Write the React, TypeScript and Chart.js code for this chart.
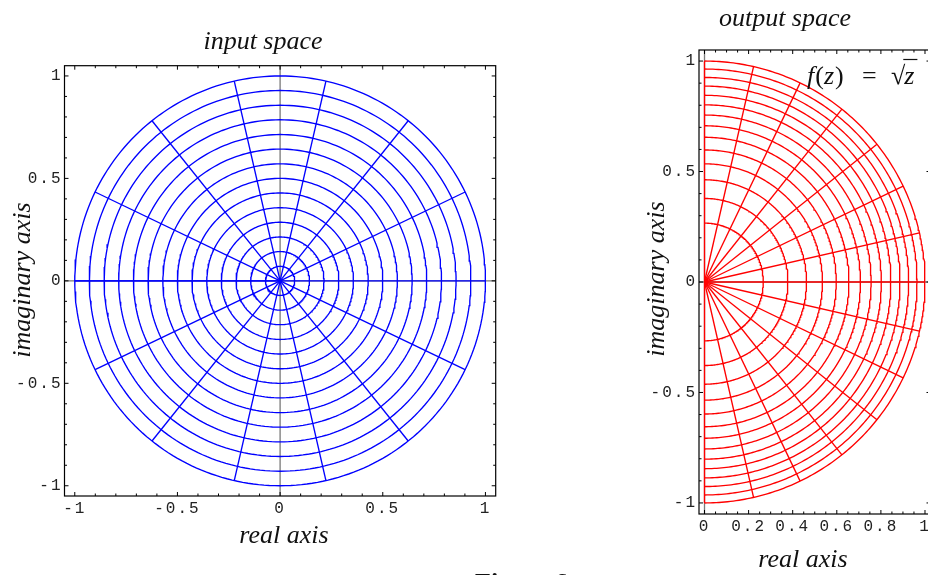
import React, { useEffect, useRef } from 'react';
import { Chart, registerables } from 'chart.js';

Chart.register(...registerables);

// ---- data ----
// input grid: circles of radius k/14 and rays every 360/14 degrees
const INPUT_RADII = [0.071, 0.143, 0.214, 0.286, 0.357, 0.429, 0.5, 0.571, 0.643, 0.714, 0.786, 0.857, 0.929, 1];
const INPUT_ANGLES_DEG = [-180, -154.3, -128.6, -102.9, -77.1, -51.4, -25.7, 0, 25.7, 51.4, 77.1, 102.9, 128.6, 154.3, 180];
const RAY_RADII = [0, 1];

const IN_TICKS = [-1, -0.5, 0, 0.5, 1];
const OUT_X_TICKS = [0, 0.2, 0.4, 0.6, 0.8, 1];
const OUT_Y_TICKS = [-1, -0.5, 0, 0.5, 1];
const IN_MINOR_STEP = 0.1;
const OUT_X_MINOR_STEP = 0.05;
const OUT_Y_MINOR_STEP = 0.1;

const CIRCLE_SAMPLES = 240;

type Pt = { x: number; y: number };
type PolarMap = (rho: number, theta: number) => Pt;

const identity: PolarMap = (rho, theta) => ({ x: rho * Math.cos(theta), y: rho * Math.sin(theta) });
// f(z) = sqrt(z), principal branch, in polar form
const sqrtMap: PolarMap = (rho, theta) => {
  const r = Math.sqrt(rho);
  const a = theta / 2;
  return { x: r * Math.cos(a), y: r * Math.sin(a) };
};

function buildDatasets(map: PolarMap, color: string) {
  const sets: any[] = [];
  const base = {
    showLine: true,
    borderColor: color,
    backgroundColor: color,
    borderWidth: 1.35,
    pointRadius: 0,
    pointHoverRadius: 0,
    fill: false,
    tension: 0,
  };
  for (const r of INPUT_RADII) {
    const pts: Pt[] = [];
    for (let i = 0; i <= CIRCLE_SAMPLES; i++) {
      const t = -Math.PI + (2 * Math.PI * i) / CIRCLE_SAMPLES;
      pts.push(map(r, t));
    }
    sets.push({ ...base, data: pts });
  }
  for (const deg of INPUT_ANGLES_DEG) {
    const phi = (deg * Math.PI) / 180;
    sets.push({ ...base, data: RAY_RADII.map((s) => map(s, phi)) });
  }
  return sets;
}

type TextSpec = { text: string; x: number; y: number; font: string; rotate?: boolean };

const framePlugin = {
  id: 'mframe',
  beforeDraw(chart: any) {
    chart.ctx.letterSpacing = '2px';
  },
  beforeDatasetsDraw(chart: any) {
    const { ctx, chartArea: ca, scales } = chart;
    const x0 = scales.x.getPixelForValue(0);
    const y0 = scales.y.getPixelForValue(0);
    ctx.save();
    ctx.strokeStyle = '#7a7a7a';
    ctx.lineWidth = 1.3;
    ctx.beginPath();
    ctx.moveTo(x0, ca.top);
    ctx.lineTo(x0, ca.bottom);
    ctx.moveTo(ca.left, y0);
    ctx.lineTo(ca.right, y0);
    ctx.stroke();
    ctx.restore();
  },
  afterDatasetsDraw(chart: any, _args: any, opts: any) {
    const { ctx, chartArea: ca, scales } = chart;
    ctx.save();
    ctx.strokeStyle = '#000';
    ctx.lineWidth = 1.2;
    ctx.strokeRect(ca.left, ca.top, ca.right - ca.left, ca.bottom - ca.top);
    ctx.lineWidth = 1;
    const drawTicks = (scale: any, horizontal: boolean, majors: number[], minorStep: number) => {
      const min = scale.min, max = scale.max;
      const start = Math.ceil(min / minorStep - 1e-9);
      const end = Math.floor(max / minorStep + 1e-9);
      ctx.beginPath();
      for (let k = start; k <= end; k++) {
        const v = k * minorStep;
        const isMajor = majors.some((m) => Math.abs(m - v) < 1e-6);
        const len = isMajor ? 4 : 2.5;
        const p = scale.getPixelForValue(v);
        if (horizontal) {
          ctx.moveTo(p, ca.bottom);
          ctx.lineTo(p, ca.bottom - len);
          ctx.moveTo(p, ca.top);
          ctx.lineTo(p, ca.top + len);
        } else {
          ctx.moveTo(ca.left, p);
          ctx.lineTo(ca.left + len, p);
          ctx.moveTo(ca.right, p);
          ctx.lineTo(ca.right - len, p);
        }
      }
      ctx.stroke();
    };
    drawTicks(scales.x, true, opts.xMajors, opts.xMinor);
    drawTicks(scales.y, false, opts.yMajors, opts.yMinor);
    ctx.restore();
  },
  afterDraw(chart: any, _args: any, opts: any) {
    const ctx = chart.ctx;
    ctx.save();
    ctx.letterSpacing = '0px';
    ctx.fillStyle = '#111';
    ctx.textAlign = 'center';
    ctx.textBaseline = 'alphabetic';
    for (const t of (opts.texts || []) as TextSpec[]) {
      ctx.font = t.font;
      if (t.rotate) {
        ctx.save();
        ctx.translate(t.x, t.y);
        ctx.rotate(-Math.PI / 2);
        ctx.fillText(t.text, 0, 0);
        ctx.restore();
      } else {
        ctx.fillText(t.text, t.x, t.y);
      }
    }
    if (opts.formula) {
      const { x, y } = opts.formula;
      const it = 'italic 26px "Liberation Serif"';
      const up = '26px "Liberation Serif"';
      ctx.textAlign = 'left';
      let cx = x;
      const put = (s: string, f: string, gap = 0) => {
        ctx.font = f;
        ctx.fillText(s, cx, y);
        cx += ctx.measureText(s).width + gap;
      };
      put('f', it, 1);
      put('(', up);
      put('z', it, 1);
      put(')', up);
      cx = x + 55;
      put('=', up);
      cx = x + 84;
      put('\u221A', up, -1);
      const zStart = cx;
      put('z', it);
      ctx.strokeStyle = '#111';
      ctx.lineWidth = 1.2;
      ctx.beginPath();
      ctx.moveTo(zStart - 1, y - 24.5);
      ctx.lineTo(cx + 3, y - 24.5);
      ctx.stroke();
    }
    ctx.restore();
    chart.ctx.letterSpacing = '0px';
  },
};

const TICK_FONT = { family: '"Liberation Mono", "Courier New", monospace', size: 16 };
const TITLE_FONT = 'italic 26px "Liberation Serif", "Times New Roman", serif';

function makeScale(min: number, max: number, ticks: number[], fit: (s: any) => void, padding: number) {
  return {
    type: 'linear' as const,
    min,
    max,
    afterBuildTicks: (s: any) => {
      s.ticks = ticks.map((v) => ({ value: v }));
    },
    afterFit: (s: any) => {
      fit(s);
      s.paddingLeft = 0;
      s.paddingRight = 0;
      s.paddingTop = 0;
      s.paddingBottom = 0;
    },
    grid: { display: false, drawTicks: false },
    border: { display: false },
    ticks: {
      autoSkip: false,
      maxRotation: 0,
      minRotation: 0,
      padding,
      color: '#222',
      font: TICK_FONT,
      callback: (v: any) => String(v),
    },
  };
}

function GridChart(props: {
  left: number;
  width: number;
  map: PolarMap;
  color: string;
  xRange: [number, number];
  yRange: [number, number];
  xTicks: number[];
  yTicks: number[];
  xMinor: number;
  yMinor: number;
  yAxisWidth: number;
  xAxisHeight: number;
  padTop: number;
  padRight: number;
  texts: TextSpec[];
  formula?: { x: number; y: number };
}) {
  const ref = useRef<HTMLCanvasElement | null>(null);
  useEffect(() => {
    if (!ref.current) return;
    const chart = new Chart(ref.current, {
      type: 'scatter',
      data: { datasets: buildDatasets(props.map, props.color) },
      options: {
        animation: false,
        responsive: false,
        maintainAspectRatio: false,
        events: [],
        layout: { padding: { top: props.padTop, right: props.padRight, bottom: 0, left: 0 } },
        plugins: {
          legend: { display: false },
          tooltip: { enabled: false },
          title: { display: false },
          mframe: {
            xMajors: props.xTicks,
            yMajors: props.yTicks,
            xMinor: props.xMinor,
            yMinor: props.yMinor,
            texts: props.texts,
            formula: props.formula,
          },
        } as any,
        scales: {
          x: makeScale(props.xRange[0], props.xRange[1], props.xTicks, (s: any) => {
            s.height = props.xAxisHeight;
          }, 3),
          y: makeScale(props.yRange[0], props.yRange[1], props.yTicks, (s: any) => {
            s.width = props.yAxisWidth;
          }, 2),
        },
      },
      plugins: [framePlugin],
    });
    return () => chart.destroy();
  }, []);
  return (
    <canvas
      ref={ref}
      width={props.width}
      height={575}
      style={{ position: 'absolute', left: props.left, top: 0, width: props.width, height: 575 }}
    />
  );
}

export default function App() {
  return (
    <div
      style={{
        position: 'absolute',
        left: 0,
        top: 0,
        width: 928,
        height: 575,
        overflow: 'hidden',
        background: '#fff',
      }}
    >
      <GridChart
        left={0}
        width={520}
        map={identity}
        color="#0000ff"
        xRange={[-1.05, 1.05]}
        yRange={[-1.05, 1.05]}
        xTicks={IN_TICKS}
        yTicks={IN_TICKS}
        xMinor={IN_MINOR_STEP}
        yMinor={IN_MINOR_STEP}
        yAxisWidth={64.5}
        xAxisHeight={79}
        padTop={65.7}
        padRight={24.3}
        texts={[
          { text: 'input space', x: 263, y: 49, font: TITLE_FONT },
          { text: 'real axis', x: 284, y: 543, font: TITLE_FONT },
          { text: 'imaginary axis', x: 30, y: 280, font: TITLE_FONT, rotate: true },
        ]}
      />
      <GridChart
        left={600}
        width={360}
        map={sqrtMap}
        color="#ff0000"
        xRange={[-0.025, 1.025]}
        yRange={[-1.05, 1.05]}
        xTicks={OUT_X_TICKS}
        yTicks={OUT_Y_TICKS}
        xMinor={OUT_X_MINOR_STEP}
        yMinor={OUT_Y_MINOR_STEP}
        yAxisWidth={99}
        xAxisHeight={61}
        padTop={50}
        padRight={29.5}
        texts={[
          { text: 'output space', x: 185, y: 26, font: TITLE_FONT },
          { text: 'real axis', x: 203, y: 567, font: TITLE_FONT },
          { text: 'imaginary axis', x: 64, y: 279, font: TITLE_FONT, rotate: true },
        ]}
        formula={{ x: 207, y: 84 }}
      />
      <div
        style={{
          position: 'absolute',
          left: 475,
          top: 570,
          font: 'bold 26px "Liberation Serif", "Times New Roman", serif',
          lineHeight: '26px',
          whiteSpace: 'nowrap',
          color: '#111',
        }}
      >
        Figure 6
      </div>
    </div>
  );
}
